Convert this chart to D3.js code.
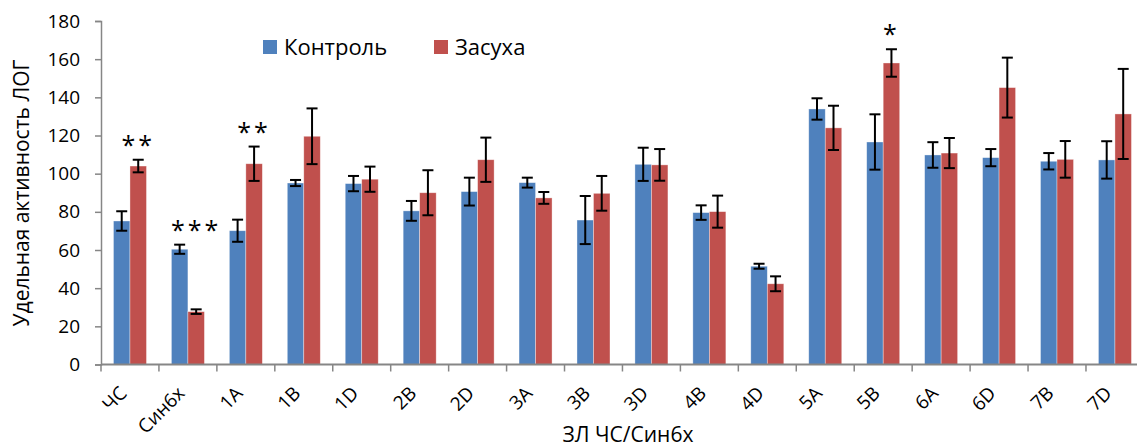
<!DOCTYPE html>
<html><head><meta charset="utf-8">
<script src="https://cdn.jsdelivr.net/npm/d3@7"></script>
<style>
body{margin:0;background:#fff;}
svg{display:block;font-family:"Open Sans","Noto Sans",sans-serif;}
</style></head><body>
<svg id="chart" width="1137" height="448"></svg>
<script>
const categories = ["ЧС","Син6х","1A","1B","1D","2B","2D","3A","3B","3D","4B","4D","5A","5B","6A","6D","7B","7D"];
const seriesNames = ["Контроль","Засуха"];
const controlValues = [75.2,60.4,70.1,95.1,94.8,80.5,90.6,95.3,75.7,104.9,79.6,51.5,133.9,116.6,109.8,108.4,106.5,107.2];
const controlErrors = [5.1,2.4,5.8,1.6,4.0,5.2,7.3,2.6,12.6,8.7,3.8,1.3,5.6,14.5,6.7,4.5,4.3,9.8];
const droughtValues = [104.0,27.7,105.2,119.6,97.1,90.0,107.3,87.3,89.7,104.6,80.1,42.3,124.0,158.0,110.8,145.1,107.5,131.3];
const droughtErrors = [3.3,1.2,9.0,14.6,6.6,11.8,11.6,3.1,9.1,8.3,8.4,3.9,11.6,7.2,7.9,15.7,9.6,23.6];
const yTicks = [0,20,40,60,80,100,120,140,160,180];
const annotations = [["ЧС","**"],["Син6х","***"],["1A","**"],["5B","*"]];
const colors = ["#4F81BD","#C0504D"];

const svg = d3.select("#chart");
const mLeft = 101, mBottom = 364.5, mTop = 21, bandW = 57.94;
const x = d3.scaleBand().domain(categories).range([mLeft, mLeft + bandW*categories.length]).padding(0);
const xs = d3.scaleBand().domain(seriesNames).range([x.bandwidth()/2 - 16.5, x.bandwidth()/2 + 16.5]).padding(0);
const y = d3.scaleLinear().domain([0,180]).range([mBottom, mTop]);
const axisColor = "#868686";

// bars
const data = categories.map((c,i)=>({c, vals:[
  {s:seriesNames[0], v:controlValues[i], e:controlErrors[i], k:0},
  {s:seriesNames[1], v:droughtValues[i], e:droughtErrors[i], k:1}]}));
const g = svg.append("g");
const grp = g.selectAll("g.grp").data(data).join("g").attr("transform", d=>`translate(${x(d.c)},0)`);
grp.selectAll("rect").data(d=>d.vals).join("rect")
  .attr("x", d=>xs(d.s)).attr("width", xs.bandwidth())
  .attr("y", d=>y(d.v)).attr("height", d=>mBottom - y(d.v))
  .attr("fill", d=>colors[d.k]).attr("stroke","#fff").attr("stroke-opacity",0.5).attr("stroke-width",0.7);

// error bars
const eb = grp.selectAll("g.eb").data(d=>d.vals).join("g").attr("class","eb");
const cap = 5.5;
const cx = d=>xs(d.s)+xs.bandwidth()/2;
eb.append("line").attr("x1",cx).attr("x2",cx)
  .attr("y1",d=>y(d.v+d.e)).attr("y2",d=>y(d.v-d.e)).attr("stroke","#000").attr("stroke-width",2);
eb.append("line").attr("x1",d=>cx(d)-cap).attr("x2",d=>cx(d)+cap)
  .attr("y1",d=>y(d.v+d.e)).attr("y2",d=>y(d.v+d.e)).attr("stroke","#000").attr("stroke-width",2);
eb.append("line").attr("x1",d=>cx(d)-cap).attr("x2",d=>cx(d)+cap)
  .attr("y1",d=>y(d.v-d.e)).attr("y2",d=>y(d.v-d.e)).attr("stroke","#000").attr("stroke-width",2);

// annotations
annotations.forEach(([c,t])=>{
  const i = categories.indexOf(c);
  const topVal = Math.max(controlValues[i]+controlErrors[i], droughtValues[i]+droughtErrors[i]);
  svg.append("text").attr("x", x(c)+xs(seriesNames[1])+xs.bandwidth()/2)
    .attr("y", y(topVal) - 16 + 10).attr("text-anchor","middle")
    .attr("font-size",25).attr("letter-spacing","3px").attr("fill","#000").text(t);
});

// y axis
const yAxis = d3.axisLeft(y).tickValues(yTicks).tickSize(6).tickSizeOuter(6).tickPadding(15);
const ya = svg.append("g").attr("transform",`translate(${mLeft},0)`).call(yAxis);
ya.selectAll("path,line").attr("stroke",axisColor).attr("stroke-width",1.5);
ya.selectAll("text").attr("font-size",19).attr("fill","#000").attr("font-family","Open Sans");

// x axis
const xEnd = mLeft + bandW*categories.length;
svg.append("line").attr("x1",mLeft).attr("x2",xEnd).attr("y1",mBottom).attr("y2",mBottom)
  .attr("stroke",axisColor).attr("stroke-width",2);
svg.selectAll("line.xt").data(categories.concat(["__end"])).join("line").attr("class","xt")
  .attr("x1",(d,i)=>mLeft + i*x.step()).attr("x2",(d,i)=>mLeft + i*x.step())
  .attr("y1",mBottom).attr("y2",mBottom+7).attr("stroke",axisColor).attr("stroke-width",1.5);
svg.selectAll("text.xl").data(categories).join("text").attr("class","xl")
  .attr("transform",d=>`translate(${x(d)+x.bandwidth()/2-2},${mBottom+30}) rotate(-45)`)
  .attr("text-anchor","end").attr("font-size",19).attr("fill","#000").text(d=>d);

// axis titles
svg.append("text").attr("x",628).attr("y",442).attr("text-anchor","middle")
  .attr("font-size",21).attr("fill","#000").text("ЗЛ ЧС/Син6х");
svg.append("text").attr("transform","translate(29,193) rotate(-90)").attr("text-anchor","middle")
  .attr("font-size",21).attr("fill","#000").text("Удельная активность ЛОГ");

// legend
const lg = svg.append("g");
const legX = [263, 434];
seriesNames.forEach((s,i)=>{
  lg.append("rect").attr("x",legX[i]).attr("y",40).attr("width",14).attr("height",14).attr("fill",colors[i]);
  lg.append("text").attr("x",legX[i]+21).attr("y",55).attr("font-size",22).attr("fill","#000").text(s);
});
</script></body></html>
